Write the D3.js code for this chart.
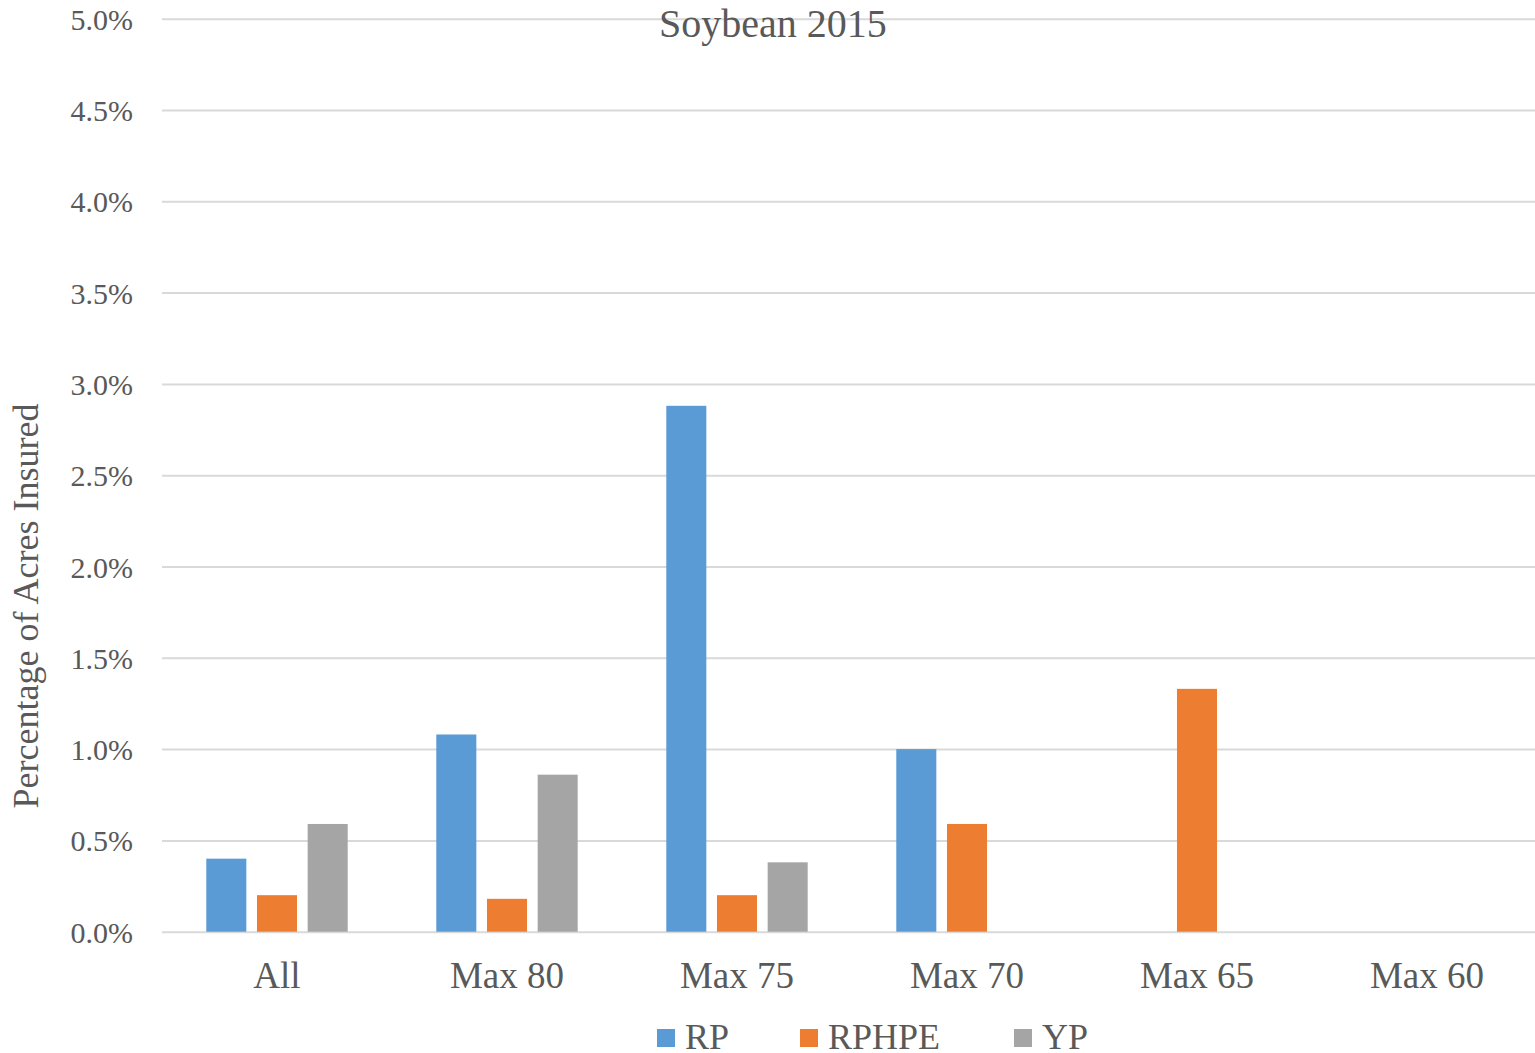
<!DOCTYPE html>
<html>
<head>
<meta charset="utf-8">
<script src="https://cdn.jsdelivr.net/npm/d3@7"></script>
<style>
  body { margin: 0; background: #fff; }
  svg text { font-family: "Liberation Serif", "Times New Roman", serif; fill: #595959; }
</style>
</head>
<body>
<div id="chart"></div>
<script>
// =====================================================================
// data
var categories = ["All", "Max 80", "Max 75", "Max 70", "Max 65", "Max 60"];
var seriesNames = ["RP", "RPHPE", "YP"];
var rpValues    = [0.0040, 0.0108, 0.0288, 0.0100, 0, 0];
var rphpeValues = [0.0020, 0.0018, 0.0020, 0.0059, 0.0133, 0];
var ypValues    = [0.0059, 0.0086, 0.0038, 0, 0, 0];
var yTicks = [0, 0.005, 0.01, 0.015, 0.02, 0.025, 0.03, 0.035, 0.04, 0.045, 0.05];
var colors = ["#5B9BD5", "#ED7D31", "#A5A5A5"];

// =====================================================================
var serif = "'Liberation Serif', 'Times New Roman', serif";
var size = { width: 1535, height: 1053 };
var plot = { left: 162, right: 1542, top: 18.7, bottom: 931.7 };

var svg = d3.select("#chart").append("svg")
    .attr("width", size.width)
    .attr("height", size.height);

var rows = categories.map(function(c, i) {
    return { cat: c, values: [rpValues[i], rphpeValues[i], ypValues[i]] };
});

var x0 = d3.scaleBand().domain(categories).range([plot.left, plot.right]).padding(0);
var mid = x0.bandwidth() / 2;
var x1 = d3.scaleBand().domain(seriesNames).range([mid - 70.7, mid + 70.7]).paddingInner(0.21);
var y = d3.scaleLinear().domain([0, 0.05]).range([plot.bottom, plot.top]);

// y axis + gridlines
var yAxis = svg.append("g")
    .attr("transform", "translate(" + plot.left + ",0)")
    .call(d3.axisLeft(y).tickValues(yTicks).tickFormat(d3.format(".1%"))
        .tickSize(-(size.width - plot.left)).tickPadding(29));
yAxis.attr("font-family", serif).attr("font-size", 30);
yAxis.select(".domain").remove();
yAxis.selectAll("line").attr("stroke", "#d9d9d9").attr("stroke-width", 2);
yAxis.selectAll("text").attr("dy", "0.35em").attr("fill", "#595959");

// x axis labels
var xAxis = svg.append("g")
    .attr("transform", "translate(0," + plot.bottom + ")")
    .call(d3.axisBottom(x0).tickSize(0).tickPadding(30));
xAxis.attr("font-family", serif).attr("font-size", 37);
xAxis.select(".domain").remove();
xAxis.selectAll("text").attr("fill", "#595959");

// bars
var groups = svg.selectAll(".cat").data(rows).enter().append("g")
    .attr("class", "cat")
    .attr("transform", function(d) { return "translate(" + x0(d.cat) + ",0)"; });

groups.selectAll("rect")
    .data(function(d) {
        return d.values.map(function(v, i) { return { key: seriesNames[i], value: v, i: i }; })
            .filter(function(s) { return s.value > 0; });
    })
    .enter().append("rect")
    .attr("x", function(d) { return x1(d.key); })
    .attr("width", x1.bandwidth())
    .attr("y", function(d) { return y(d.value); })
    .attr("height", function(d) { return y(0) - y(d.value); })
    .attr("fill", function(d) { return colors[d.i]; });

// title
svg.append("text")
    .attr("x", 773).attr("y", 37)
    .attr("text-anchor", "middle")
    .style("font-size", "40px")
    .text("Soybean 2015");

// y axis title
svg.append("text")
    .attr("transform", "translate(38,606) rotate(-90)")
    .attr("text-anchor", "middle")
    .style("font-size", "36px")
    .text("Percentage of Acres Insured");

// legend
var legendX = [657, 800, 1014];
var legend = svg.selectAll(".legend").data(seriesNames).enter().append("g")
    .attr("class", "legend")
    .attr("transform", function(d, i) { return "translate(" + legendX[i] + ",1029)"; });
legend.append("rect")
    .attr("width", 18).attr("height", 18)
    .attr("fill", function(d, i) { return colors[i]; });
legend.append("text")
    .attr("x", 28).attr("y", 20)
    .style("font-size", "36px")
    .text(function(d) { return d; });
</script>
</body>
</html>
